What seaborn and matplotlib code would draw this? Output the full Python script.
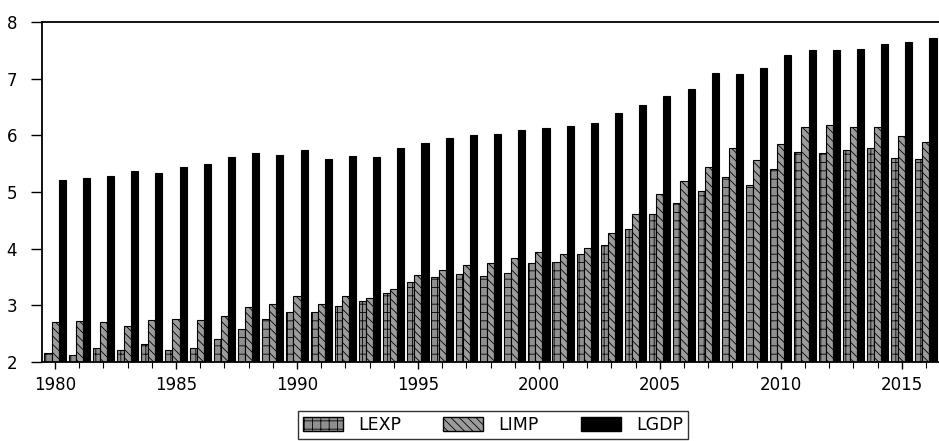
import matplotlib
matplotlib.use("Agg")
import matplotlib.pyplot as plt
import seaborn as sns
import pandas as pd
import numpy as np
from matplotlib.patches import Patch

years = list(range(1980, 2017))
lexp = [2.16, 2.12, 2.24, 2.22, 2.31, 2.22, 2.24, 2.41, 2.59, 2.76,
        2.88, 2.88, 2.98, 3.07, 3.22, 3.42, 3.50, 3.55, 3.51, 3.57,
        3.74, 3.76, 3.90, 4.07, 4.35, 4.61, 4.81, 5.01, 5.26, 5.12,
        5.41, 5.71, 5.69, 5.75, 5.78, 5.60, 5.59]
limp = [2.71, 2.73, 2.71, 2.64, 2.74, 2.76, 2.74, 2.81, 2.97, 3.03,
        3.16, 3.03, 3.16, 3.13, 3.28, 3.54, 3.63, 3.72, 3.75, 3.84,
        3.94, 3.91, 4.02, 4.28, 4.61, 4.97, 5.19, 5.45, 5.78, 5.56,
        5.85, 6.15, 6.19, 6.15, 6.15, 5.98, 5.89]
lgdp = [5.21, 5.25, 5.28, 5.37, 5.34, 5.44, 5.50, 5.62, 5.68, 5.66,
        5.74, 5.58, 5.64, 5.62, 5.78, 5.86, 5.96, 6.01, 6.03, 6.10,
        6.13, 6.16, 6.22, 6.39, 6.54, 6.69, 6.82, 7.10, 7.08, 7.18,
        7.41, 7.50, 7.50, 7.52, 7.61, 7.64, 7.72]
series = ["LEXP", "LIMP", "LGDP"]

df = pd.DataFrame({"year": years, "LEXP": lexp, "LIMP": limp, "LGDP": lgdp})
long = df.melt(id_vars="year", value_vars=series, var_name="series", value_name="value")

sns.set_style("ticks")
plt.rcParams["font.family"] = ["DejaVu Sans"]
plt.rcParams["hatch.linewidth"] = 0.6
plt.rcParams["text.color"] = "black"
plt.rcParams["xtick.color"] = "black"
plt.rcParams["ytick.color"] = "black"
plt.rcParams["axes.edgecolor"] = "black"

fig = plt.figure(figsize=(9.39, 4.41), dpi=100)
ax = fig.add_axes([42 / 939, 1 - 362 / 441, (939 - 42) / 939, (362 - 22) / 441])

face = {"LEXP": "#8f8f8f", "LIMP": "#9c9c9c", "LGDP": "black"}
hatches = {"LEXP": "++", "LIMP": "\\\\\\\\", "LGDP": None}
sns.barplot(data=long, x="year", y="value", hue="series", hue_order=series,
            palette=face, width=0.88, gap=0, ax=ax, edgecolor="black",
            linewidth=0.8, legend=False)

for cont, name in zip(ax.containers, series):
    for p in cont:
        if hatches[name]:
            p.set_hatch(hatches[name])
            p.set_facecolor(face[name])

ax.set_ylim(2, 8)
ax.set_xlim(-0.54, len(years) - 1 + 0.54)
ax.set_yticks([2, 3, 4, 5, 6, 7, 8])
major = [i for i, y in enumerate(years) if y % 5 == 0]
ax.set_xticks(major)
ax.set_xticklabels([str(years[i]) for i in major])
ax.set_xticks(range(len(years)), minor=True)
ax.tick_params(axis="x", which="major", labelsize=12, length=5, width=1, direction="out", pad=5,
               colors="black")
ax.tick_params(axis="y", which="major", labelsize=12, length=8, width=1, direction="out", pad=10,
               colors="black")
ax.tick_params(axis="x", which="minor", length=4, width=0.8, direction="out", colors="black")
ax.set_xlabel("")
ax.set_ylabel("")
for s in ["left", "top", "bottom"]:
    ax.spines[s].set_visible(True)
    ax.spines[s].set_linewidth(1.3)
    ax.spines[s].set_color("black")
ax.spines["right"].set_visible(False)

handles = [Patch(facecolor=face[n], edgecolor="black", hatch=hatches[n], label=n) for n in series]
leg = fig.legend(handles=handles, loc="center", bbox_to_anchor=(493 / 939, 1 - 425 / 441),
                 ncol=3, frameon=True, fancybox=False, edgecolor="black", fontsize=12.5,
                 handlelength=2.3, handleheight=0.9, columnspacing=2.4, borderpad=0.3,
                 handletextpad=0.9, borderaxespad=0, labelcolor="black")
leg.get_frame().set_linewidth(1.0)

fig.savefig("out.png", dpi=100)
